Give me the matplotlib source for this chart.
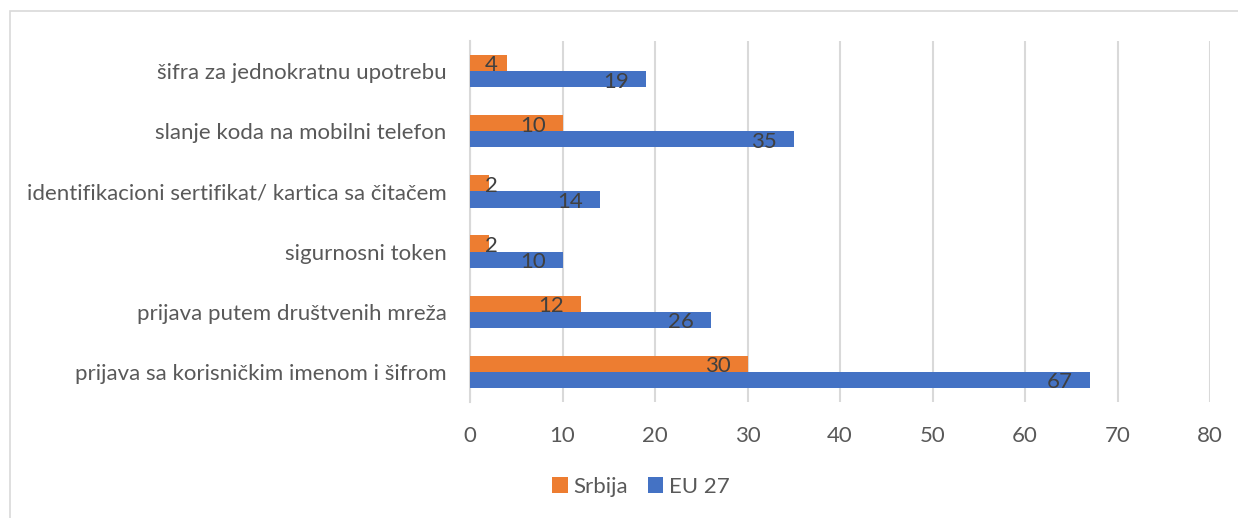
# horizontal grouped bars: Srbija vs EU 27
import numpy as np
from matplotlib import pyplot as plt
from matplotlib.patches import Rectangle

categories = ['prijava sa korisničkim imenom i šifrom',
              'prijava putem društvenih mreža',
              'sigurnosni token',
              'identifikacioni sertifikat/ kartica sa čitačem',
              'slanje koda na mobilni telefon',
              'šifra za jednokratnu upotrebu']
srbija = [30, 12, 2, 2, 10, 4]
eu27   = [67, 26, 10, 14, 35, 19]
xticks = [0, 10, 20, 30, 40, 50, 60, 70, 80]

orange = '#ED7D31' ; blue = '#4472C4'
grid_c = '#D9D9D9' ; txt_c = '#595959' ; lab_c = '#404040'

plt.rcParams['font.family'] = ['Lato', 'DejaVu Sans']
fs = 16

fig = plt.figure(figsize=(12.38, 5.18), dpi=100)
W, H = 1238.0, 518.0
ax = fig.add_axes([470/W, 1 - 402/H, 740/W, 361/H])

# chart frame (cut off at the right and bottom)
fig.patches.append(Rectangle((10/W, -0.1), 1.2, 1 - 11/H + 0.1, transform=fig.transFigure,
                             fill=False, edgecolor='#D9D9D9', linewidth=1.2))

y = np.arange(len(categories))
h = 0.27
b1 = ax.barh(y + h/2, srbija, height=h, color=orange, label='Srbija', zorder=3)
b2 = ax.barh(y - h/2, eu27, height=h, color=blue, label='EU 27', zorder=3)

# data labels near the inside end of the bars
for bars, vals in ((b1, srbija), (b2, eu27)):
    for bar, v in zip(bars, vals):
        yc = bar.get_y() + bar.get_height()/2 - 0.04
        if v < 10:
            ax.text(max(v - 1.7, 2.3), yc, str(v), ha='center', va='center',
                    fontsize=fs, color=lab_c, zorder=4)
        else:
            ax.text(v - 1.8, yc, str(v), ha='right', va='center',
                    fontsize=fs, color=lab_c, zorder=4)

ax.set_xlim(0, 80)
ax.set_ylim(-0.5, len(categories) - 0.5)
ax.set_xticks(xticks)
ax.set_yticks(y)
ax.set_yticklabels(categories)
ax.tick_params(axis='both', length=0, labelsize=fs, labelcolor=txt_c)
ax.tick_params(axis='x', pad=17)
ax.tick_params(axis='y', pad=17)
ax.grid(axis='x', color=grid_c, linewidth=1.5, zorder=0)
for s in ('top', 'right', 'bottom'):
    ax.spines[s].set_visible(False)
ax.spines['left'].set_color(grid_c)
ax.spines['left'].set_linewidth(1.5)

fig.legend(handles=[b1, b2], loc='center', bbox_to_anchor=(641/W, 1 - 487/H), ncol=2,
           frameon=False, fontsize=fs, labelcolor=txt_c, handlelength=0.7, handleheight=0.7,
           handletextpad=0.25, columnspacing=0.9)

plt.savefig('out.png', dpi=100)
